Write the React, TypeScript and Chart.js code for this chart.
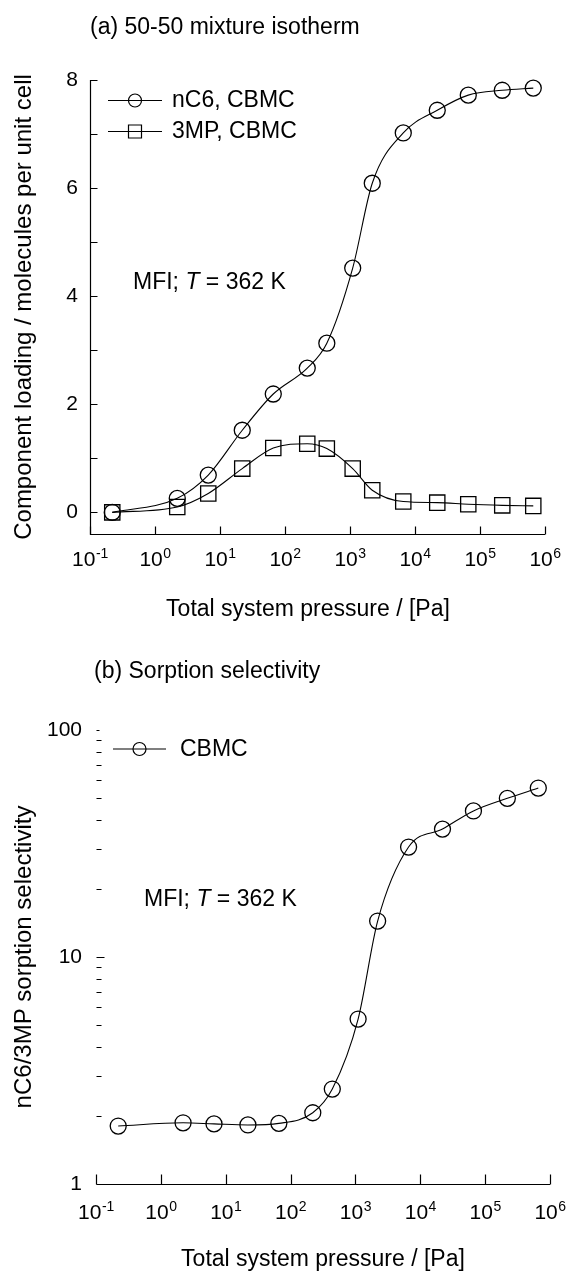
import { useEffect, useRef } from 'react';
import { Chart, registerables } from 'chart.js';

Chart.register(...registerables);

const FONT = '"Liberation Sans", Arial, Helvetica, sans-serif';

// ---- data ----
const pressure = [0.22, 2.2, 6.6, 22, 66, 220, 440, 1100, 2200, 6600, 22000, 66000, 220000, 660000];
const nC6Loading = [0, 0.26, 0.69, 1.52, 2.19, 2.67, 3.13, 4.52, 6.09, 7.02, 7.44, 7.72, 7.81, 7.85];
const mp3Loading = [0, 0.1, 0.35, 0.81, 1.19, 1.27, 1.18, 0.81, 0.41, 0.2, 0.18, 0.15, 0.13, 0.12];
const selectivity = [1.8, 1.86, 1.84, 1.82, 1.85, 2.06, 2.62, 5.33, 14.4, 30.5, 36.6, 44, 50, 55.5];

const xDecades = [0.1, 1, 10, 100, 1e3, 1e4, 1e5, 1e6];
const xExponents = ['-1', '0', '1', '2', '3', '4', '5', '6'];
const loadingTicks = [0, 1, 2, 3, 4, 5, 6, 7, 8];
const loadingLabels = [0, 2, 4, 6, 8];
const selectivityMajor = [1, 10, 100];
const selectivityMinor = [2, 3, 4, 5, 6, 7, 8, 9, 20, 30, 40, 50, 60, 70, 80, 90];

const titleA = '(a) 50-50 mixture isotherm';
const titleB = '(b) Sorption selectivity';
const xTitle = 'Total system pressure / [Pa]';
const yTitleA = 'Component loading / molecules per unit cell';
const yTitleB = 'nC6/3MP sorption selectivity';
const seriesNames = ['nC6, CBMC', '3MP, CBMC'];
const seriesNameB = 'CBMC';

const points = (xs: number[], ys: number[]) => xs.map((x, i) => ({ x, y: ys[i] }));

function drawPow(ctx: CanvasRenderingContext2D, cx: number, cy: number, exp: string) {
  ctx.font = `21px ${FONT}`;
  const wb = ctx.measureText('10').width;
  ctx.font = `14px ${FONT}`;
  const we = ctx.measureText(exp).width;
  const start = cx - (wb + we) / 2;
  ctx.textAlign = 'left';
  ctx.textBaseline = 'middle';
  ctx.font = `21px ${FONT}`;
  ctx.fillText('10', start, cy);
  ctx.font = `14px ${FONT}`;
  ctx.fillText(exp, start + wb + 0.5, cy - 6);
}

function drawMFI(ctx: CanvasRenderingContext2D, x: number, y: number) {
  const parts: [string, boolean][] = [['MFI; ', false], ['T', true], [' = 362 K', false]];
  let cx = x;
  ctx.textAlign = 'left';
  ctx.textBaseline = 'middle';
  for (const [t, it] of parts) {
    ctx.font = `${it ? 'italic ' : ''}23px ${FONT}`;
    ctx.fillText(t, cx, y);
    cx += ctx.measureText(t).width;
  }
}

function drawRotated(ctx: CanvasRenderingContext2D, text: string, cx: number, cy: number) {
  ctx.save();
  ctx.translate(cx, cy);
  ctx.rotate(-Math.PI / 2);
  ctx.font = `24px ${FONT}`;
  ctx.textAlign = 'center';
  ctx.textBaseline = 'middle';
  ctx.fillText(text, 0, 0);
  ctx.restore();
}

function legendMarker(ctx: CanvasRenderingContext2D, style: 'circle' | 'rect', x0: number, x1: number, y: number) {
  const cx = (x0 + x1) / 2;
  ctx.lineWidth = 1.2;
  ctx.beginPath();
  ctx.moveTo(x0, y);
  ctx.lineTo(x1, y);
  ctx.stroke();
  ctx.beginPath();
  if (style === 'circle') ctx.arc(cx, y, 6.5, 0, Math.PI * 2);
  else ctx.rect(cx - 6.5, y - 6.5, 13, 13);
  ctx.stroke();
}

const isothermDecor = {
  id: 'isothermDecor',
  afterDraw(chart: any) {
    const { ctx, chartArea: a, scales } = chart;
    const x = scales.x;
    const y = scales.y;
    ctx.save();
    ctx.strokeStyle = '#000';
    ctx.fillStyle = '#000';
    ctx.lineWidth = 1.2;
    // axis lines
    const L = Math.round(a.left) + 0.5;
    const B = Math.round(a.bottom) + 0.5;
    ctx.beginPath();
    ctx.moveTo(L, a.top);
    ctx.lineTo(L, B);
    ctx.lineTo(a.right, B);
    ctx.stroke();
    // y ticks (inward)
    ctx.beginPath();
    for (const v of loadingTicks) {
      const py = Math.round(y.getPixelForValue(v)) + 0.5;
      ctx.moveTo(L, py);
      ctx.lineTo(L + 7, py);
    }
    // x ticks (inward)
    for (const v of xDecades) {
      const px = Math.round(x.getPixelForValue(v)) + 0.5;
      ctx.moveTo(px, B);
      ctx.lineTo(px, B - 8);
    }
    ctx.stroke();
    // y labels
    ctx.font = `21px ${FONT}`;
    ctx.textAlign = 'right';
    ctx.textBaseline = 'middle';
    for (const v of loadingLabels) ctx.fillText(String(v), a.left - 12, y.getPixelForValue(v));
    // x labels
    xDecades.forEach((v, i) => drawPow(ctx, x.getPixelForValue(v), a.bottom + 26, xExponents[i]));
    // titles
    ctx.font = `23px ${FONT}`;
    ctx.textAlign = 'left';
    ctx.textBaseline = 'middle';
    ctx.fillText(titleA, a.left, 28);
    ctx.textAlign = 'center';
    ctx.fillText(xTitle, 308, 610);
    drawRotated(ctx, yTitleA, 24, 307);
    // legend
    legendMarker(ctx, 'circle', 108, 162, 100.5);
    legendMarker(ctx, 'rect', 108, 162, 131.5);
    ctx.font = `23px ${FONT}`;
    ctx.textAlign = 'left';
    ctx.textBaseline = 'middle';
    ctx.fillText(seriesNames[0], 172, 101);
    ctx.fillText(seriesNames[1], 172, 132);
    drawMFI(ctx, 133, 283);
    ctx.restore();
  },
};

const selectivityDecor = {
  id: 'selectivityDecor',
  afterDraw(chart: any) {
    const { ctx, chartArea: a, scales } = chart;
    const x = scales.x;
    const y = scales.y;
    ctx.save();
    ctx.strokeStyle = '#000';
    ctx.fillStyle = '#000';
    ctx.lineWidth = 1.2;
    const L = Math.round(a.left) + 0.5;
    const B = Math.round(a.bottom) + 0.5;
    ctx.beginPath();
    ctx.moveTo(L, B);
    ctx.lineTo(a.right, B);
    // x ticks
    for (const v of xDecades) {
      const px = Math.round(x.getPixelForValue(v)) + 0.5;
      ctx.moveTo(px, B);
      ctx.lineTo(px, B - 10);
    }
    // y ticks
    for (const v of selectivityMajor) {
      const py = Math.round(y.getPixelForValue(v)) + 0.5;
      ctx.moveTo(L, py);
      ctx.lineTo(L + (v === 10 ? 8 : 3), py);
    }
    for (const v of selectivityMinor) {
      const py = Math.round(y.getPixelForValue(v)) + 0.5;
      ctx.moveTo(L, py);
      ctx.lineTo(L + 5, py);
    }
    ctx.stroke();
    // y labels
    ctx.font = `21px ${FONT}`;
    ctx.textAlign = 'right';
    ctx.textBaseline = 'middle';
    for (const v of selectivityMajor) ctx.fillText(String(v), a.left - 14, y.getPixelForValue(v));
    xDecades.forEach((v, i) => drawPow(ctx, x.getPixelForValue(v), a.bottom + 29, xExponents[i]));
    ctx.font = `23px ${FONT}`;
    ctx.textAlign = 'left';
    ctx.textBaseline = 'middle';
    ctx.fillText(titleB, 94, 32);
    ctx.textAlign = 'center';
    ctx.fillText(xTitle, 323, 620);
    drawRotated(ctx, yTitleB, 24, 317);
    legendMarker(ctx, 'circle', 113, 166, 109);
    ctx.font = `23px ${FONT}`;
    ctx.textAlign = 'left';
    ctx.textBaseline = 'middle';
    ctx.fillText(seriesNameB, 180, 110);
    drawMFI(ctx, 144, 260);
    ctx.restore();
  },
};

const hiddenScale = {
  display: false,
  ticks: { display: false },
  grid: { display: false, drawTicks: false },
  border: { display: false },
};

const lineStyle = {
  borderColor: '#000',
  borderWidth: 1.1,
  pointBorderColor: '#000',
  pointBackgroundColor: 'rgba(0,0,0,0)',
  pointBorderWidth: 1.3,
  cubicInterpolationMode: 'monotone' as const,
  fill: false,
  clip: false as const,
};

export default function App() {
  const refA = useRef<HTMLCanvasElement>(null);
  const refB = useRef<HTMLCanvasElement>(null);

  useEffect(() => {
    const chartA = new Chart(refA.current!, {
      type: 'line',
      data: {
        datasets: [
          { ...lineStyle, label: seriesNames[0], data: points(pressure, nC6Loading), pointStyle: 'circle', pointRadius: 8 },
          { ...lineStyle, label: seriesNames[1], data: points(pressure, mp3Loading), pointStyle: 'rect', pointRadius: 10.8 },
        ],
      },
      options: {
        responsive: false,
        animation: false,
        devicePixelRatio: 1,
        events: [],
        layout: { padding: { left: 90, top: 80, right: 21, bottom: 106 } },
        plugins: { legend: { display: false }, title: { display: false }, tooltip: { enabled: false } },
        scales: {
          x: { ...hiddenScale, type: 'logarithmic', min: 0.1, max: 1e6 },
          y: { ...hiddenScale, type: 'linear', min: -0.4, max: 8 },
        },
      },
      plugins: [isothermDecor],
    });
    const chartB = new Chart(refB.current!, {
      type: 'line',
      data: {
        datasets: [
          { ...lineStyle, label: seriesNameB, data: points(pressure, selectivity), pointStyle: 'circle', pointRadius: 8 },
        ],
      },
      options: {
        responsive: false,
        animation: false,
        devicePixelRatio: 1,
        events: [],
        layout: { padding: { left: 96, top: 90, right: 16, bottom: 90 } },
        plugins: { legend: { display: false }, title: { display: false }, tooltip: { enabled: false } },
        scales: {
          x: { ...hiddenScale, type: 'logarithmic', min: 0.1, max: 1e6 },
          y: { ...hiddenScale, type: 'logarithmic', min: 1, max: 100 },
        },
      },
      plugins: [selectivityDecor],
    });
    return () => {
      chartA.destroy();
      chartB.destroy();
    };
  }, []);

  return (
    <div style={{ position: 'absolute', left: 0, top: 0, width: 566, height: 1274, background: '#fff' }}>
      <canvas ref={refA} width={566} height={640} style={{ display: 'block', position: 'absolute', left: 0, top: 0 }} />
      <canvas ref={refB} width={566} height={634} style={{ display: 'block', position: 'absolute', left: 0, top: 640 }} />
    </div>
  );
}
